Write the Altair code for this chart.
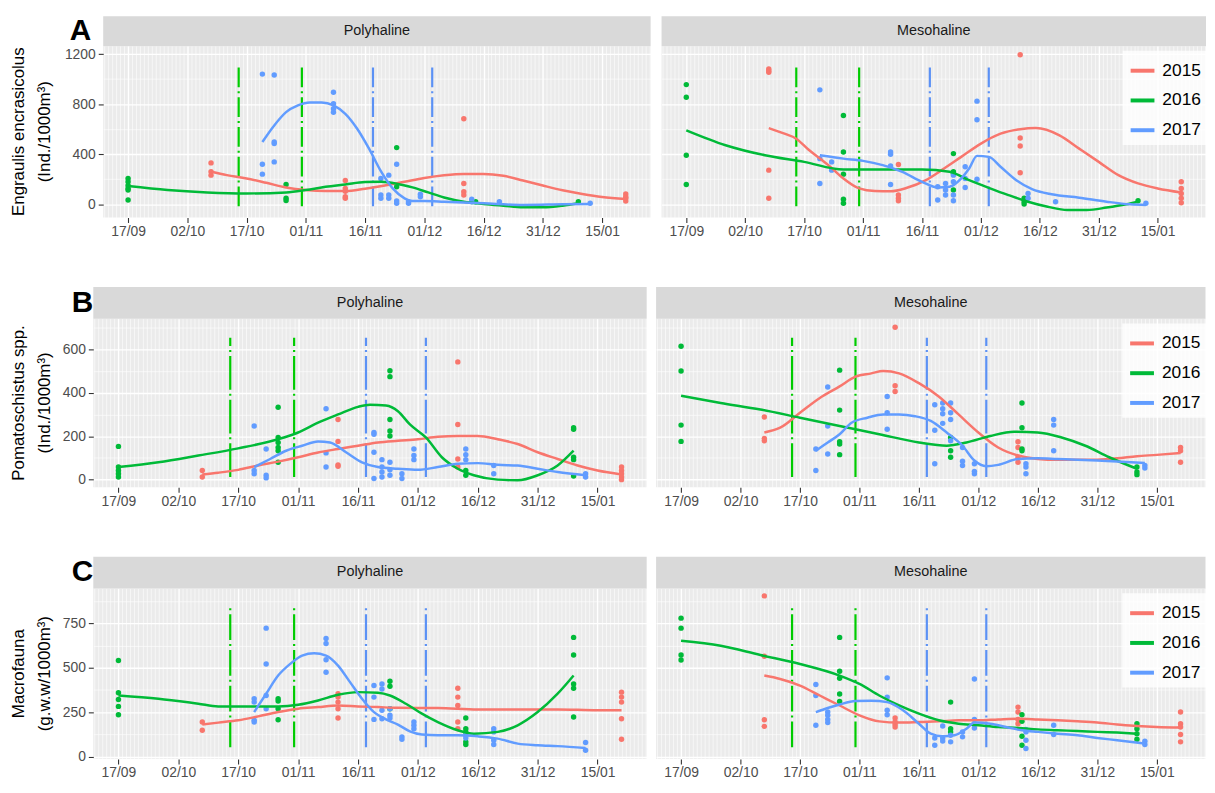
import json
import altair as alt
import pandas as pd

FONT = "Liberation Sans"

# ---------------- shared categories / labels ----------------
YEARS = ["2015", "2016", "2017"]
YEAR_COLORS = ["#F8766D", "#00BA38", "#619CFF"]
ZONES = ["Polyhaline", "Mesohaline"]
# day offsets are counted from 17/09
TICK_DAYS = [0, 15, 30, 45, 60, 75, 90, 105, 120]
TICK_LABELS = ["17/09", "02/10", "17/10", "01/11", "16/11", "01/12", "16/12", "31/12", "15/01"]
X_DOMAIN = [-6.3, 132.3]
EVENT_DAYS = [28, 44, 62, 77]
EVENT_YEARS = ["2016", "2016", "2017", "2017"]
EVENT_COLORS = ["#00CC00", "#5B91F5"]

# ---------------- row A : Engraulis encrasicolus ----------------
A_TITLE = ["Engraulis encrasicolus", "(Ind./1000m\u00b3)"]
A_Y_MAJOR = [0, 400, 800, 1200]
A_Y_MINOR = [200, 600, 1000]
A_Y_DOMAIN = [-105, 1265]
A_EVENT_SPAN = [-16, 1108]

A_POLY_PTS_2015 = [(21, 331), (21, 260), (21, 233), (55, 190), (55, 127), (55, 105), (55, 61), (55, 48),
                   (85, 683), (85, 167), (85, 100), (85, 74), (126, 82), (126, 60), (126, 48), (126, 26)]
A_POLY_PTS_2016 = [(0, 207), (0, 180), (0, 150), (0, 127), (0, 114), (0, 34), (40, 159), (40, 48), (40, 30),
                   (68, 453), (68, 140), (88, 21), (114, 21)]
A_POLY_PTS_2017 = [(34, 1040), (34, 320), (34, 241), (37, 1033), (37, 498), (37, 485), (37, 339),
                   (52, 895), (52, 803), (52, 763), (52, 736), (64, 207), (64, 74), (64, 48), (66, 233),
                   (66, 74), (66, 48), (68, 320), (68, 26), (68, 8), (71, 8), (71, 20), (74, 80), (74, 61),
                   (87, 40), (87, 20), (94, 21), (117, 8)]
A_POLY_FIT_2015 = [(21, 260), (25, 233), (30, 207), (35, 172), (40, 135), (45, 114), (50, 106), (55, 106),
                   (60, 125), (65, 150), (70, 180), (75, 210), (80, 232), (85, 243), (90, 243), (95, 228),
                   (100, 190), (105, 150), (110, 112), (115, 82), (120, 58), (126, 42)]
A_POLY_FIT_2016 = [(0, 146), (10, 114), (20, 95), (30, 87), (40, 95), (45, 114), (50, 140), (55, 159),
                   (60, 178), (64, 180), (68, 165), (72, 135), (76, 95), (80, 55), (85, 21), (90, 3),
                   (95, -11), (100, -24), (105, -24), (110, -11), (114, 8)]
A_POLY_FIT_2017 = [(34, 498), (37, 630), (40, 736), (43, 790), (46, 813), (49, 813), (52, 790), (55, 723),
                   (58, 604), (61, 445), (64, 265), (67, 127), (70, 48), (72, 26), (75, 26), (80, 21),
                   (90, 8), (100, -5), (110, 0), (117, 3)]

A_MESO_PTS_2015 = [(21, 1080), (21, 1067), (21, 1054), (21, 273), (21, 48), (54, 318), (54, 74), (54, 48),
                   (54, 29), (85, 1195), (85, 530), (85, 466), (85, 252), (126, 180), (126, 127), (126, 87),
                   (126, 48), (126, 13)]
A_MESO_PTS_2016 = [(0, 956), (0, 855), (0, 392), (0, 159), (40, 710), (40, 418), (40, 241), (40, 40), (40, 8),
                   (68, 405), (68, 260), (68, 246), (68, 114), (86, 48), (86, 21), (86, 3), (115, 29)]
A_MESO_PTS_2017 = [(34, 914), (34, 365), (34, 167), (37, 339), (37, 273), (52, 418), (52, 400), (52, 307),
                   (52, 159), (64, 140), (64, 34), (66, 167), (66, 114), (66, 74), (68, 233), (68, 180),
                   (68, 74), (68, 29), (71, 300), (71, 207), (71, 135), (74, 824), (74, 675), (74, 201),
                   (87, 87), (87, 48), (94, 21), (117, 8)]
A_MESO_FIT_2015 = [(21, 609), (25, 564), (28, 524), (31, 440), (34, 366), (37, 290), (40, 206), (44, 127),
                   (48, 106), (52, 104), (56, 130), (61, 193), (65, 273), (70, 379), (75, 485), (80, 564),
                   (85, 600), (89, 609), (95, 551), (100, 445), (105, 339), (110, 233), (115, 167),
                   (120, 127), (126, 95)]
A_MESO_FIT_2016 = [(0, 591), (10, 472), (20, 392), (30, 339), (40, 278), (50, 278), (60, 278), (67, 260),
                   (72, 193), (77, 132), (82, 74), (87, 21), (92, -19), (97, -45), (102, -45), (107, -26),
                   (112, 0), (115, 21)]
A_MESO_FIT_2017 = [(34, 392), (40, 365), (45, 347), (50, 313), (55, 260), (60, 180), (64, 135), (67, 140),
                   (70, 207), (72, 286), (74, 387), (77, 379), (80, 300), (84, 193), (88, 122), (93, 80),
                   (100, 53), (107, 21), (113, 0), (117, -5)]

# ---------------- row B : Pomatoschistus spp. ----------------
B_TITLE = ["Pomatoschistus spp.", "(Ind./1000m\u00b3)"]
B_Y_MAJOR = [0, 200, 400, 600]
B_Y_MINOR = [100, 300, 500, 700]
B_Y_DOMAIN = [-35, 741]
B_EVENT_SPAN = [12, 653]

B_POLY_PTS_2015 = [(21, 42), (21, 12), (55, 277), (55, 176), (55, 68), (55, 62), (85, 542), (85, 254), (85, 95),
                   (85, 58), (126, 58), (126, 42), (126, 27), (126, 12), (126, 0)]
B_POLY_PTS_2016 = [(0, 153), (0, 58), (0, 42), (0, 27), (0, 12), (40, 333), (40, 194), (40, 171), (40, 148),
                   (40, 133), (40, 80), (68, 501), (68, 474), (68, 277), (68, 224), (68, 201), (87, 42),
                   (87, 20), (114, 239), (114, 232), (114, 103), (114, 92), (114, 17)]
B_POLY_PTS_2017 = [(34, 247), (34, 42), (34, 27), (37, 141), (37, 20), (37, 8), (52, 326), (52, 123), (52, 58),
                   (64, 217), (64, 209), (64, 126), (64, 5), (66, 92), (66, 58), (66, 35), (66, 12), (68, 80),
                   (68, 45), (68, 20), (71, 27), (71, 5), (74, 141), (74, 111), (74, 92), (87, 141),
                   (87, 115), (87, 92), (94, 65), (94, 27), (117, 27), (117, 12)]
B_POLY_FIT_2015 = [(21, 24), (25, 32), (30, 45), (35, 65), (40, 83), (45, 103), (50, 125), (55, 141),
                   (60, 156), (65, 171), (70, 179), (75, 186), (80, 197), (85, 201), (90, 201), (95, 186),
                   (100, 164), (105, 126), (110, 95), (115, 65), (120, 42), (126, 24)]
B_POLY_FIT_2016 = [(0, 58), (10, 80), (20, 111), (30, 144), (40, 186), (45, 217), (50, 262), (55, 300),
                   (60, 335), (63, 345), (67, 341), (70, 315), (73, 254), (77, 194), (81, 103), (85, 50),
                   (89, 20), (95, 0), (100, -3), (105, 20), (110, 65), (114, 133)]
B_POLY_FIT_2017 = [(34, 58), (38, 95), (42, 133), (46, 156), (50, 176), (53, 171), (57, 126), (61, 80),
                   (65, 58), (70, 50), (75, 45), (80, 58), (85, 73), (90, 76), (95, 68), (100, 65),
                   (105, 50), (110, 35), (117, 20)]

B_MESO_PTS_2015 = [(21, 288), (21, 189), (21, 179), (54, 701), (54, 432), (54, 406), (85, 174), (85, 148),
                   (85, 103), (85, 80), (126, 148), (126, 133), (126, 80)]
B_MESO_PTS_2016 = [(0, 614), (0, 500), (0, 251), (0, 176), (40, 504), (40, 320), (40, 174), (40, 164),
                   (40, 115), (68, 194), (68, 133), (68, 103), (86, 353), (86, 239), (86, 141), (86, 133),
                   (115, 58), (115, 35), (115, 23)]
B_MESO_PTS_2017 = [(34, 141), (34, 42), (37, 426), (37, 247), (37, 118), (52, 383), (52, 308), (52, 232),
                   (64, 345), (64, 227), (64, 73), (66, 353), (66, 326), (66, 303), (66, 259), (68, 353),
                   (68, 308), (68, 277), (68, 179), (71, 148), (71, 85), (71, 65), (74, 73), (74, 38),
                   (74, 27), (87, 73), (87, 58), (87, 27), (94, 277), (94, 251), (94, 133), (117, 65),
                   (117, 53)]
B_MESO_FIT_2015 = [(21, 217), (25, 239), (30, 308), (35, 376), (40, 429), (44, 474), (48, 489), (51, 500),
                   (55, 489), (60, 444), (65, 383), (70, 300), (75, 217), (80, 148), (85, 111), (90, 95),
                   (95, 91), (100, 91), (105, 92), (110, 98), (115, 108), (120, 114), (126, 123)]
B_MESO_FIT_2016 = [(0, 386), (10, 353), (20, 323), (30, 285), (40, 247), (50, 209), (60, 171), (67, 156),
                   (72, 171), (78, 201), (84, 220), (90, 217), (96, 194), (102, 156), (108, 103), (115, 50)]
B_MESO_FIT_2017 = [(34, 133), (37, 171), (40, 209), (43, 262), (47, 285), (51, 300), (55, 300), (59, 292),
                   (63, 270), (67, 217), (71, 156), (74, 88), (77, 62), (80, 68), (85, 95), (90, 98),
                   (95, 95), (100, 92), (105, 88), (110, 83), (117, 77)]

# ---------------- row C : Macrofauna ----------------
C_TITLE = ["Macrofauna", "(g.w.w/1000m\u00b3)"]
C_Y_MAJOR = [0, 250, 500, 750]
C_Y_MINOR = [125, 375, 625, 875]
C_Y_DOMAIN = [-12, 945]
C_EVENT_SPAN = [54, 844]

C_POLY_PTS_2015 = [(21, 195), (21, 149), (55, 354), (55, 335), (55, 307), (55, 270), (55, 218), (85, 385),
                   (85, 335), (85, 288), (85, 195), (85, 158), (126, 363), (126, 335), (126, 307),
                   (126, 214), (126, 99)]
C_POLY_PTS_2016 = [(0, 540), (0, 359), (0, 322), (0, 283), (0, 236), (40, 326), (40, 313), (40, 270), (40, 208),
                   (68, 424), (68, 396), (68, 270), (87, 218), (87, 158), (87, 140), (87, 84), (87, 69),
                   (114, 670), (114, 571), (114, 409), (114, 385), (114, 223)]
C_POLY_PTS_2017 = [(34, 326), (34, 307), (34, 205), (34, 195), (37, 722), (37, 521), (37, 344), (37, 270),
                   (52, 664), (52, 636), (52, 545), (52, 475), (64, 400), (64, 335), (64, 210), (66, 409),
                   (66, 381), (66, 261), (66, 214), (68, 270), (68, 233), (68, 218), (71, 112), (71, 99),
                   (74, 195), (74, 177), (74, 158), (87, 121), (87, 106), (94, 158), (94, 140), (94, 93),
                   (94, 69), (117, 80), (117, 37)]
C_POLY_FIT_2015 = [(21, 181), (25, 192), (30, 205), (35, 227), (40, 251), (45, 270), (50, 279), (55, 288),
                   (60, 283), (65, 279), (70, 275), (80, 274), (90, 266), (100, 266), (110, 266), (120, 261),
                   (126, 261)]
C_POLY_FIT_2016 = [(0, 344), (10, 326), (20, 298), (25, 283), (30, 283), (40, 283), (45, 292), (50, 316),
                   (55, 348), (60, 363), (65, 359), (68, 344), (72, 298), (76, 242), (80, 195), (85, 149),
                   (89, 130), (95, 140), (100, 177), (105, 251), (110, 354), (114, 456)]
C_POLY_FIT_2017 = [(34, 251), (37, 354), (40, 456), (43, 521), (46, 568), (49, 581), (52, 568), (55, 512),
                   (58, 419), (61, 326), (64, 251), (67, 210), (70, 181), (73, 143), (76, 125), (80, 121),
                   (85, 121), (90, 115), (95, 102), (100, 74), (105, 65), (110, 60), (117, 50)]

C_MESO_PTS_2015 = [(21, 903), (21, 564), (21, 208), (21, 171), (54, 218), (54, 195), (54, 181), (54, 167),
                   (85, 279), (85, 251), (85, 210), (85, 186), (126, 251), (126, 186), (126, 167),
                   (126, 125), (126, 84)]
C_MESO_PTS_2016 = [(0, 778), (0, 722), (0, 571), (0, 543), (40, 670), (40, 480), (40, 441), (40, 352),
                   (40, 311), (68, 307), (68, 158), (68, 140), (86, 236), (86, 199), (86, 115), (86, 65),
                   (115, 186), (115, 158), (115, 130), (115, 99)]
C_MESO_PTS_2017 = [(34, 406), (34, 344), (34, 177), (37, 251), (37, 233), (37, 210), (37, 192), (52, 443),
                   (52, 335), (52, 261), (52, 236), (64, 106), (64, 65), (66, 173), (66, 106), (66, 89),
                   (68, 121), (68, 84), (71, 140), (71, 112), (74, 437), (74, 210), (74, 162), (87, 153),
                   (87, 140), (87, 93), (87, 47), (94, 177), (94, 125), (117, 87), (117, 69)]
C_MESO_FIT_2015 = [(21, 456), (25, 437), (30, 400), (35, 344), (40, 288), (45, 233), (50, 199), (55, 192),
                   (60, 195), (65, 199), (70, 205), (75, 205), (80, 210), (85, 214), (90, 210), (95, 205),
                   (100, 199), (105, 192), (110, 182), (115, 173), (120, 167), (126, 164)]
C_MESO_FIT_2016 = [(0, 651), (10, 623), (20, 571), (30, 521), (40, 456), (45, 409), (50, 344), (55, 288),
                   (60, 242), (65, 205), (70, 186), (75, 177), (80, 167), (85, 162), (90, 154), (95, 149),
                   (100, 145), (105, 140), (110, 136), (115, 130)]
C_MESO_FIT_2017 = [(34, 251), (37, 274), (40, 294), (44, 313), (48, 315), (52, 307), (56, 261), (60, 186),
                   (63, 130), (66, 115), (69, 121), (72, 158), (74, 192), (78, 186), (82, 167), (86, 149),
                   (90, 140), (95, 130), (100, 121), (105, 106), (110, 93), (117, 74)]


def to_df(series):
    rows = []
    for year, pairs in zip(YEARS, series):
        for d, v in pairs:
            rows.append({"day": d, "value": v, "year": year})
    return pd.DataFrame(rows)


X_GRID = list(range(-6, 133))
X_MAJOR_TEST = "datum.value % 15 === 0"
X_LABEL_EXPR = ("(datum.value % 15 === 0 && datum.value >= 0 && datum.value <= 120) ? "
                + json.dumps(TICK_LABELS) + "[datum.value / 15] : ''")

x_axis = alt.Axis(
    values=X_GRID, labelExpr=X_LABEL_EXPR, title=None, domain=False,
    grid=True, gridColor="white",
    gridWidth={"condition": {"test": X_MAJOR_TEST, "value": 1.4}, "value": 0.6},
    tickColor={"condition": {"test": X_MAJOR_TEST, "value": "#333333"}, "value": "rgba(0,0,0,0)"},
    tickSize=5, tickWidth=1.1, labelFontSize=14, labelColor="#4d4d4d", labelFont=FONT,
    labelPadding=2, labelOverlap=False, labelFlush=False, labelBound=False)
x_scale = alt.Scale(domain=X_DOMAIN, nice=False, zero=False)


def make_panel(zone, pts, fits, y_domain, y_major, y_minor, event_span, width, height,
               strip_h, dash, title=None, title_x=0, letter=None, letter_x=-20, legend=False):
    y_vals = sorted(y_major + y_minor)
    major_test = "indexof(" + json.dumps(y_major) + ", datum.value) >= 0"
    common = dict(values=y_vals, grid=True, gridColor="white", domain=False, title=None,
                  gridWidth={"condition": {"test": major_test, "value": 1.4}, "value": 0.6})
    if title is not None:
        y_axis = alt.Axis(
            **common, format="d",
            labelExpr="indexof(" + json.dumps(y_major) + ", datum.value) >= 0 ? datum.label : ''",
            tickColor={"condition": {"test": major_test, "value": "#333333"}, "value": "rgba(0,0,0,0)"},
            tickSize=5, tickWidth=1.1, labelFontSize=14, labelColor="#4d4d4d", labelFont=FONT,
            labelPadding=3)
    else:
        y_axis = alt.Axis(**common, labels=False, ticks=False, minExtent=0)
    y_scale = alt.Scale(domain=y_domain, nice=False, zero=False)

    strip_df = pd.DataFrame({"label": [zone]})
    layers = [
        alt.Chart(strip_df).mark_rect(color="#d9d9d9").encode(
            x=alt.value(0), x2=alt.value(width), y=alt.value(-strip_h), y2=alt.value(0)),
        alt.Chart(strip_df).mark_text(font=FONT, fontSize=14.5, color="#1a1a1a", baseline="middle").encode(
            x=alt.value(width / 2), y=alt.value(-strip_h / 2), text="label:N"),
    ]
    if letter is not None:
        layers.append(
            alt.Chart(pd.DataFrame({"letter": [letter]})).mark_text(
                font=FONT, fontSize=30, fontWeight="bold", color="black", baseline="middle").encode(
                x=alt.value(letter_x), y=alt.value(-strip_h / 2), text="letter:N"))
    if title is not None:
        # two-line y axis title, drawn as rotated text
        for i, line in enumerate(title):
            layers.append(
                alt.Chart(pd.DataFrame({"t": [line]})).mark_text(
                    font=FONT, fontSize=17, color="black", angle=270, align="center",
                    baseline="middle").encode(
                    x=alt.value(title_x + 26 * i), y=alt.value(height / 2), text="t:N"))

    ev = pd.DataFrame({"day": EVENT_DAYS, "year": EVENT_YEARS,
                       "lo": [event_span[0]] * 4, "hi": [event_span[1]] * 4})
    layers.append(
        alt.Chart(ev).mark_rule(strokeWidth=2.2, strokeDash=dash).encode(
            x=alt.X("day:Q", scale=x_scale, axis=x_axis),
            y=alt.Y("lo:Q", scale=y_scale, axis=y_axis),
            y2="hi:Q",
            color=alt.Color("year:N", scale=alt.Scale(domain=["2016", "2017"], range=EVENT_COLORS),
                            legend=None)))
    layers.append(
        alt.Chart(to_df(pts)).mark_circle(size=30, opacity=1).encode(
            x=alt.X("day:Q", scale=x_scale, axis=x_axis),
            y=alt.Y("value:Q", scale=y_scale, axis=y_axis),
            fill=alt.Fill("year:N", scale=alt.Scale(domain=YEARS, range=YEAR_COLORS), legend=None)))
    if legend:
        leg = alt.Legend(title=None, orient="none", legendX=width - 84, legendY=5,
                         symbolType="stroke", symbolSize=576, symbolStrokeWidth=4,
                         labelFontSize=17.5, labelFont=FONT, labelColor="black", labelOffset=6,
                         rowPadding=7, padding=6, fillColor="rgba(255,255,255,0.8)")
    else:
        leg = None
    layers.append(
        alt.Chart(to_df(fits)).mark_line(strokeWidth=2.5, interpolate="monotone").encode(
            x=alt.X("day:Q", scale=x_scale, axis=x_axis),
            y=alt.Y("value:Q", scale=y_scale, axis=y_axis),
            stroke=alt.Stroke("year:N", scale=alt.Scale(domain=YEARS, range=YEAR_COLORS), legend=leg)))
    return alt.layer(*layers).properties(width=width, height=height)


def make_row(title, letter, title_x, letter_x, y_domain, y_major, y_minor, span, poly, meso,
             widths, height, strip_h, gap, dash):
    p = make_panel(ZONES[0], poly[0], poly[1], y_domain, y_major, y_minor, span, widths[0], height,
                   strip_h, dash, title=title, title_x=title_x, letter=letter, letter_x=letter_x)
    m = make_panel(ZONES[1], meso[0], meso[1], y_domain, y_major, y_minor, span, widths[1], height,
                   strip_h, dash, legend=True)
    inner = alt.hconcat(p, m, spacing=gap).resolve_legend(stroke="independent")
    # 1-px anchor so that each row is aligned on its left bound rather than on its plot origin
    anchor = (alt.Chart(pd.DataFrame({"v": [0]})).mark_point(size=0, opacity=0)
              .properties(width=1, height=1, view=alt.ViewBackground(fill="transparent")))
    return alt.hconcat(anchor, inner, spacing=0).resolve_legend(stroke="independent")


row_a = make_row(A_TITLE, "A", -84.5, -23, A_Y_DOMAIN, A_Y_MAJOR, A_Y_MINOR, A_EVENT_SPAN,
                 ([A_POLY_PTS_2015, A_POLY_PTS_2016, A_POLY_PTS_2017],
                  [A_POLY_FIT_2015, A_POLY_FIT_2016, A_POLY_FIT_2017]),
                 ([A_MESO_PTS_2015, A_MESO_PTS_2016, A_MESO_PTS_2017],
                  [A_MESO_FIT_2015, A_MESO_FIT_2016, A_MESO_FIT_2017]),
                 (552, 549), 173, 30, 11, [20, 4, 2, 4])
row_b = make_row(B_TITLE, "B", -75, -11, B_Y_DOMAIN, B_Y_MAJOR, B_Y_MINOR, B_EVENT_SPAN,
                 ([B_POLY_PTS_2015, B_POLY_PTS_2016, B_POLY_PTS_2017],
                  [B_POLY_FIT_2015, B_POLY_FIT_2016, B_POLY_FIT_2017]),
                 ([B_MESO_PTS_2015, B_MESO_PTS_2016, B_MESO_PTS_2017],
                  [B_MESO_FIT_2015, B_MESO_FIT_2016, B_MESO_FIT_2017]),
                 (558, 554), 170, 32, 9.5, [34, 4, 2, 4])
row_c = make_row(C_TITLE, "C", -75, -11, C_Y_DOMAIN, C_Y_MAJOR, C_Y_MINOR, C_EVENT_SPAN,
                 ([C_POLY_PTS_2015, C_POLY_PTS_2016, C_POLY_PTS_2017],
                  [C_POLY_FIT_2015, C_POLY_FIT_2016, C_POLY_FIT_2017]),
                 ([C_MESO_PTS_2015, C_MESO_PTS_2016, C_MESO_PTS_2017],
                  [C_MESO_FIT_2015, C_MESO_FIT_2016, C_MESO_FIT_2017]),
                 (558, 554), 172, 32, 9.5, [26, 4, 2, 4])

chart = (
    alt.vconcat(row_a, row_b, row_c, spacing=49)
    .resolve_legend(stroke="independent")
    .properties(padding={"left": 1, "top": 5, "right": 0, "bottom": 0})
    .configure_view(fill="#EBEBEB", stroke=None)
)

chart.save("out.html", embed_options={"renderer": "svg", "actions": False})
